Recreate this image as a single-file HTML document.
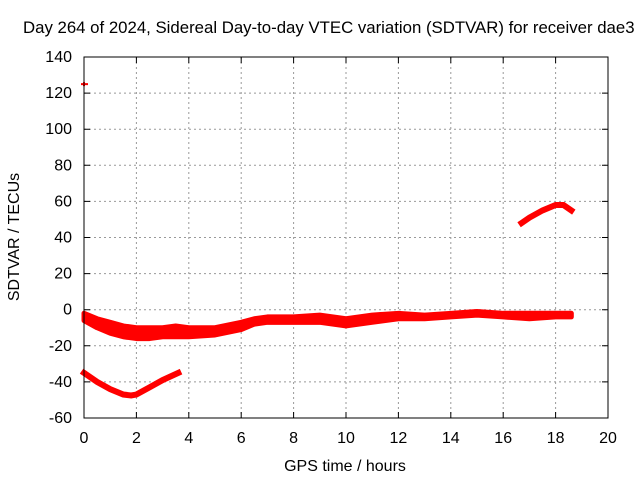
<!DOCTYPE html>
<html><head><meta charset="utf-8"><style>body{margin:0;background:#fff}svg{display:block;font-family:"Liberation Sans",sans-serif;font-size:16px}</style></head>
<body>
<svg id="c" width="640" height="480">
<text x="23" y="33" text-anchor="start" style="font-size:16.8px">Day 264 of 2024, Sidereal Day-to-day VTEC variation (SDTVAR) for receiver dae3</text>
<text x="345" y="471" text-anchor="middle">GPS time / hours</text>
<text transform="translate(19,237) rotate(-90)" text-anchor="middle">SDTVAR / TECUs</text>
<g id="grid"></g><g id="ticks"></g><g id="marks"></g>
<rect x="84" y="57" width="524" height="361" fill="none" stroke="#000" stroke-width="1"/>
</svg>
<script>
const xTicks=[0,2,4,6,8,10,12,14,16,18,20];
const yTicks=[-60,-40,-20,0,20,40,60,80,100,120,140];
const bandT=[0,0.5,1,1.5,2,2.5,3,3.5,4,5,6,6.5,7,8,9,10,11,12,13,14,15,16,17,18,18.6];
const bandUpper=[-2,-5,-7,-9,-10,-10,-10,-9,-10,-10,-7,-5,-4,-4,-3,-5,-3,-2,-3,-2,-1,-2,-2,-2,-2];
const bandLower=[-6,-10,-13,-15,-16,-16,-15,-15,-15,-14,-11,-8,-7,-7,-7,-9,-7,-5,-5,-4,-3,-4,-5,-4,-4];
const lowT=[0,0.5,1,1.5,1.8,2,2.5,3,3.6];
const lowV=[-35,-40,-44,-47,-47.5,-47,-43,-39,-35];
const highT=[16.7,17,17.5,18,18.3,18.6];
const highV=[48,51,55,58,58,55];
const outlierT=[0];const outlierV=[125];
const X=t=>84+t*524/20, Y=v=>57+(140-v)*361/200;
const NS='http://www.w3.org/2000/svg';
function mk(tag,attrs,parent){const e=document.createElementNS(NS,tag);for(const k in attrs)e.setAttribute(k,attrs[k]);document.getElementById(parent).appendChild(e);return e;}
xTicks.forEach(t=>{
 if(t>0&&t<20){const g=mk('line',{x1:X(t),x2:X(t),y1:57,y2:418,stroke:'#999','stroke-dasharray':'2,3'},'grid');
 
 }
 const tk=mk('path',{d:`M${X(t)},418v-6M${X(t)},57v6`,stroke:'#000'},'ticks');
 
 
 const l=mk('text',{x:X(t),y:443,'text-anchor':'middle'},'ticks');l.textContent=t;
 
 
});
yTicks.forEach(v=>{
 if(v>-60&&v<140){const g=mk('line',{x1:84,x2:608,y1:Y(v),y2:Y(v),stroke:'#999','stroke-dasharray':'2,3'},'grid');
 
 }
 const tk=mk('path',{d:`M84,${Y(v)}h6M608,${Y(v)}h-6`,stroke:'#000'},'ticks');
 
 
 const l=mk('text',{x:72,y:Y(v)+5,'text-anchor':'end'},'ticks');l.textContent=v;
 
 
});
let d=bandT.map((t,i)=>(i?'L':'M')+X(t)+','+Y(bandUpper[i])).join('');
for(let i=bandT.length-1;i>=0;i--)d+='L'+X(bandT[i])+','+Y(bandLower[i]);
const band=mk('path',{d:d+'Z',fill:'#f00',stroke:'#f00','stroke-width':5,'stroke-linejoin':'round'},'marks');


function line(T,V,name){const p=mk('polyline',{points:T.map((t,i)=>X(t)+','+Y(V[i])).join(' '),fill:'none',stroke:'#f00','stroke-width':6,'stroke-linecap':'square'},'marks');
 
 }
line(lowT,lowV,'lower-arc-series');
line(highT,highV,'upper-arc-series');
outlierT.forEach((t,i)=>{const p=mk('path',{d:`M${X(t)-3},${Y(outlierV[i])}h7M${X(t)},${Y(outlierV[i])-2}v4`,stroke:'#f00','stroke-width':2},'marks');
 
 });
</script>
</body></html>
